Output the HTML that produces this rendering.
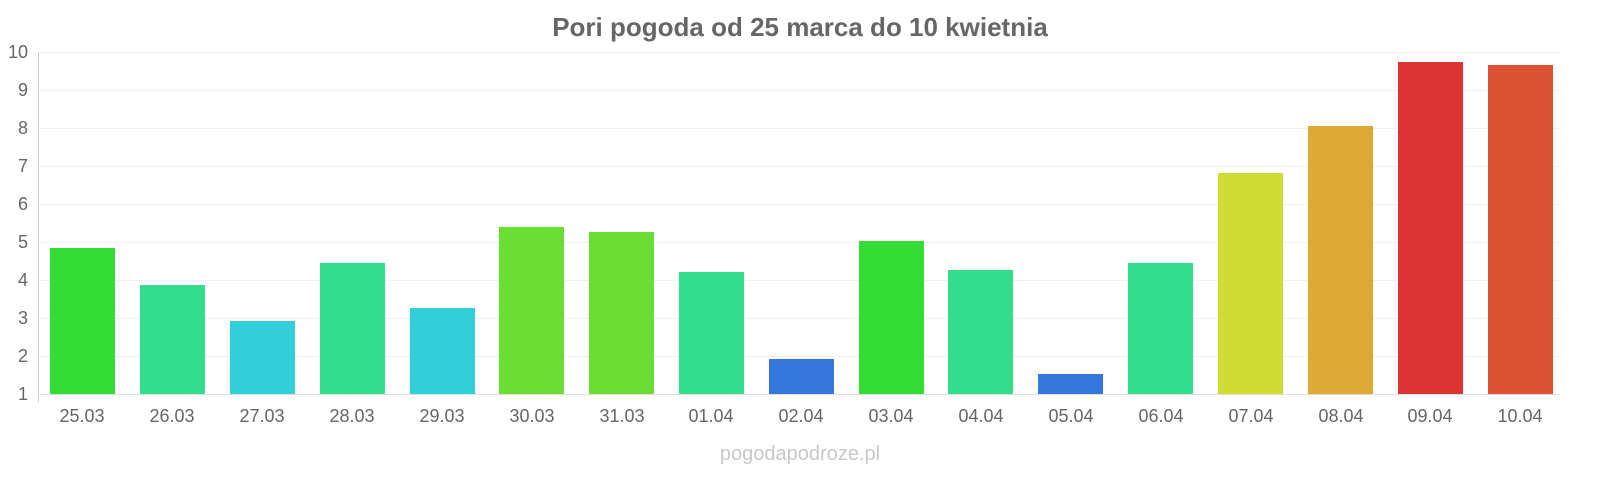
<!DOCTYPE html>
<html><head><meta charset="utf-8"><style>
body{margin:0;background:#fff;}
svg{display:block;font-family:"Liberation Sans",sans-serif;}
</style></head><body>
<svg width="1600" height="480" viewBox="0 0 1600 480">
<text x="800" y="36" text-anchor="middle" font-size="26" font-weight="bold" fill="#666">Pori pogoda od 25 marca do 10 kwietnia</text>
<g stroke="#f0f0f0" stroke-width="1">
<line x1="38" x2="1560" y1="52.5" y2="52.5"/><line x1="38" x2="1560" y1="90.5" y2="90.5"/>
<line x1="38" x2="1560" y1="128.5" y2="128.5"/><line x1="38" x2="1560" y1="166.5" y2="166.5"/>
<line x1="38" x2="1560" y1="204.5" y2="204.5"/><line x1="38" x2="1560" y1="242.5" y2="242.5"/>
<line x1="38" x2="1560" y1="280.5" y2="280.5"/><line x1="38" x2="1560" y1="318.5" y2="318.5"/>
<line x1="38" x2="1560" y1="356.5" y2="356.5"/>
</g>
<line x1="38.5" x2="38.5" y1="52" y2="402" stroke="#ccc"/>
<line x1="38" x2="1560" y1="394.5" y2="394.5" stroke="#ddd"/>
<g font-size="18" fill="#666" text-anchor="end">
<text x="28" y="400">1</text><text x="28" y="362">2</text><text x="28" y="324">3</text>
<text x="28" y="286">4</text><text x="28" y="248">5</text><text x="28" y="210">6</text>
<text x="28" y="172">7</text><text x="28" y="134">8</text><text x="28" y="96">9</text>
<text x="28" y="58">10</text>
</g>
<g>
<rect x="50" y="248" width="65" height="146" fill="#33dd33"/>
<rect x="140" y="285" width="65" height="109" fill="#33dd8c"/>
<rect x="230" y="321" width="65" height="73" fill="#33cfd9"/>
<rect x="320" y="263" width="65" height="131" fill="#33dd8c"/>
<rect x="410" y="308" width="65" height="86" fill="#33cfd9"/>
<rect x="499" y="227" width="65" height="167" fill="#6ade35"/>
<rect x="589" y="232" width="65" height="162" fill="#6ade35"/>
<rect x="679" y="272" width="65" height="122" fill="#33dd8c"/>
<rect x="769" y="359" width="65" height="35" fill="#3377dd"/>
<rect x="859" y="241" width="65" height="153" fill="#33dd33"/>
<rect x="948" y="270" width="65" height="124" fill="#33dd8c"/>
<rect x="1038" y="374" width="65" height="20" fill="#3377dd"/>
<rect x="1128" y="263" width="65" height="131" fill="#33dd8c"/>
<rect x="1218" y="173" width="65" height="221" fill="#cfdd33"/>
<rect x="1308" y="126" width="65" height="268" fill="#dcaa33"/>
<rect x="1398" y="62" width="65" height="332" fill="#dd3333"/>
<rect x="1488" y="65" width="65" height="329" fill="#dd5133"/>
</g>
<g font-size="18" fill="#666" text-anchor="middle">
<text x="82" y="422">25.03</text><text x="172" y="422">26.03</text><text x="262" y="422">27.03</text>
<text x="352" y="422">28.03</text><text x="442" y="422">29.03</text><text x="532" y="422">30.03</text>
<text x="622" y="422">31.03</text><text x="711" y="422">01.04</text><text x="801" y="422">02.04</text>
<text x="891" y="422">03.04</text><text x="981" y="422">04.04</text><text x="1071" y="422">05.04</text>
<text x="1161" y="422">06.04</text><text x="1251" y="422">07.04</text><text x="1341" y="422">08.04</text>
<text x="1430" y="422">09.04</text><text x="1520" y="422">10.04</text>
</g>
<text x="800" y="460" text-anchor="middle" font-size="20" fill="#c8c8c8">pogodapodroze.pl</text>
</svg>
</body></html>
